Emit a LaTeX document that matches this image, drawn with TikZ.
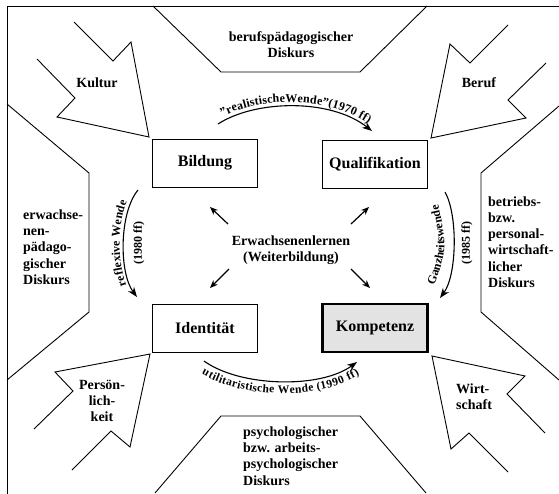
\documentclass[tikz,border=0pt]{standalone}
\usepackage{fontspec}
\setmainfont{Liberation Serif}
\usetikzlibrary{arrows.meta,decorations.text}

\newcommand{\turnfont}{\fontsize{12}{14}\selectfont\bfseries}

\begin{document}
\begin{tikzpicture}[x=1pt,y=-1pt]

    % Define styles
    \tikzset{
        frame line/.style={line width=0.9pt, draw=black},
        concept box/.style={draw=black, line width=0.9pt, minimum width=105pt, minimum height=48pt,
            font=\fontsize{16}{19}\selectfont\bfseries},
        core box/.style={concept box, line width=2.6pt, fill=black!11},
        field text/.style={font=\fontsize{14}{16.3}\selectfont\bfseries, inner sep=0pt},
        turn arrow/.style={-{Stealth[length=10pt,width=7.5pt]}, line width=1.1pt},
        small arrow/.style={-{Stealth[length=8pt,width=6.5pt]}, line width=1.2pt}
    }

    \useasboundingbox (0,0) rectangle (559,493);
    \clip (0,0) rectangle (559,493);

    % Outer frame (runs off at right and bottom)
    \draw[frame line] (7,6) rectangle (570,505);

    % The four concepts and the centre
    \node[concept box] (bildung) at (205,163) {Bildung};
    \node[concept box] (qualifikation) at (375,164) {Qualifikation};
    \node[concept box] (identitaet) at (205,328) {Identität};
    \node[core box] (kompetenz) at (375,328) {Kompetenz};
    \node[field text, align=center] (lernen) at (291,250) {Erwachsenenlernen\\(Weiterbildung)};

    % Short arrows from the centre
    \coordinate (to-bildung-a) at (228,224);
    \coordinate (to-bildung-b) at (210,207);
    \coordinate (to-qualifikation-a) at (351,224);
    \coordinate (to-qualifikation-b) at (369,207);
    \coordinate (to-identitaet-a) at (229,269);
    \coordinate (to-identitaet-b) at (210,288);
    \coordinate (to-kompetenz-a) at (351,269);
    \coordinate (to-kompetenz-b) at (370,288);
    \draw[small arrow] (to-bildung-a) -- (to-bildung-b);
    \draw[small arrow] (to-qualifikation-a) -- (to-qualifikation-b);
    \draw[small arrow] (to-identitaet-a) -- (to-identitaet-b);
    \draw[small arrow] (to-kompetenz-a) -- (to-kompetenz-b);

    % Discourse fields at the four sides
    \draw[frame line] (153,6) -- (221,72) -- (360,72) -- (427,6);
    \draw[frame line] (155,493) -- (221,416) -- (360,416) -- (426,493);
    \draw[frame line] (7,104) -- (89,173) -- (89,312) -- (7,380);
    \draw[frame line] (559,106) -- (481,173) -- (481,312) -- (559,380);

    \node[field text, align=center] (beruf-diskurs) at (291,45) {berufspädagogischer\\Diskurs};
    \node[field text, align=left, anchor=west] (psych-diskurs) at (243,456)
        {psychologischer\\bzw. arbeits-\\psychologischer\\Diskurs};
    \node[field text, align=left, anchor=west] (ew-diskurs) at (23,247)
        {erwachse-\\nen-\\pädago-\\gischer\\Diskurs};
    \node[field text, align=left, anchor=west] (betrieb-diskurs) at (488,242)
        {betriebs-\\bzw.\\personal-\\wirtschaft-\\licher\\Diskurs};

    % Block arrows towards the corners
    \draw[frame line] (74,22) -- (113,61) -- (131,42) -- (149,137) -- (57,117) -- (75,98) -- (37,59);
    \draw[frame line] (508,25) -- (470,63) -- (450,44) -- (431,138) -- (526,118) -- (508,100) -- (546,63);
    \draw[frame line] (34,429) -- (73,391) -- (55,372) -- (150,354) -- (130,447) -- (111,431) -- (72,470);
    \draw[frame line] (545,433) -- (507,394) -- (525,376) -- (432,356) -- (451,449) -- (469,433) -- (508,472);

    \node[field text] (kultur) at (97,83) {Kultur};
    \node[field text] (beruf) at (479,83) {Beruf};
    \node[field text, align=center] (person) at (102,401) {Persön-\\lich-\\keit};
    \node[field text, align=left, anchor=west] (wirtschaft) at (456,397) {Wirt-\\schaft};

    % Curved arrows between the concepts
    \coordinate (real-a) at (218,124);
    \coordinate (real-b) at (372,131);
    \coordinate (refl-a) at (138,190);
    \coordinate (refl-b) at (137,297);
    \coordinate (ganz-a) at (445,192);
    \coordinate (ganz-b) at (440,298);
    \coordinate (util-a) at (204,361);
    \coordinate (util-b) at (357,362);

    \draw[turn arrow] (real-a) .. controls (255,100) and (330,98) .. (real-b);
    \draw[turn arrow] (refl-a) .. controls (119,213) and (119,273) .. (refl-b);
    \draw[turn arrow] (ganz-a) .. controls (458,215) and (457,275) .. (ganz-b);
    \draw[turn arrow] (util-a) .. controls (240,387) and (320,389) .. (util-b);

    % Labels of the turns
    \path[decorate, decoration={text along path, text align=center, raise=4pt,
        text={|\turnfont|"realistischeWende"(1970 ff)}}]
        (real-a) .. controls (255,100) and (330,98) .. (real-b);
    \path[decorate, decoration={text along path, text align=center, raise=4pt,
        text={|\turnfont|reflexive Wende}}]
        (refl-b) .. controls (119,273) and (119,213) .. (refl-a);
    \path[decorate, decoration={text along path, text align=center, raise=2pt,
        text={|\turnfont|Ganzheitswende}}]
        (433,295) .. controls (450,248) .. (438,195);
    \path[decorate, decoration={text along path, text align=center, raise=-12pt,
        text={|\fontsize{11.5}{14}\selectfont\bfseries|utilitaristische Wende (1990 ff)}}]
        (util-a) .. controls (240,387) and (320,389) .. (util-b);

    \node[rotate=90, font=\turnfont] (refl-jahr) at (139,243) {(1980 ff)};
    \node[rotate=90, font=\turnfont] (ganz-jahr) at (467,243) {(1985 ff)};

\end{tikzpicture}
\end{document}
